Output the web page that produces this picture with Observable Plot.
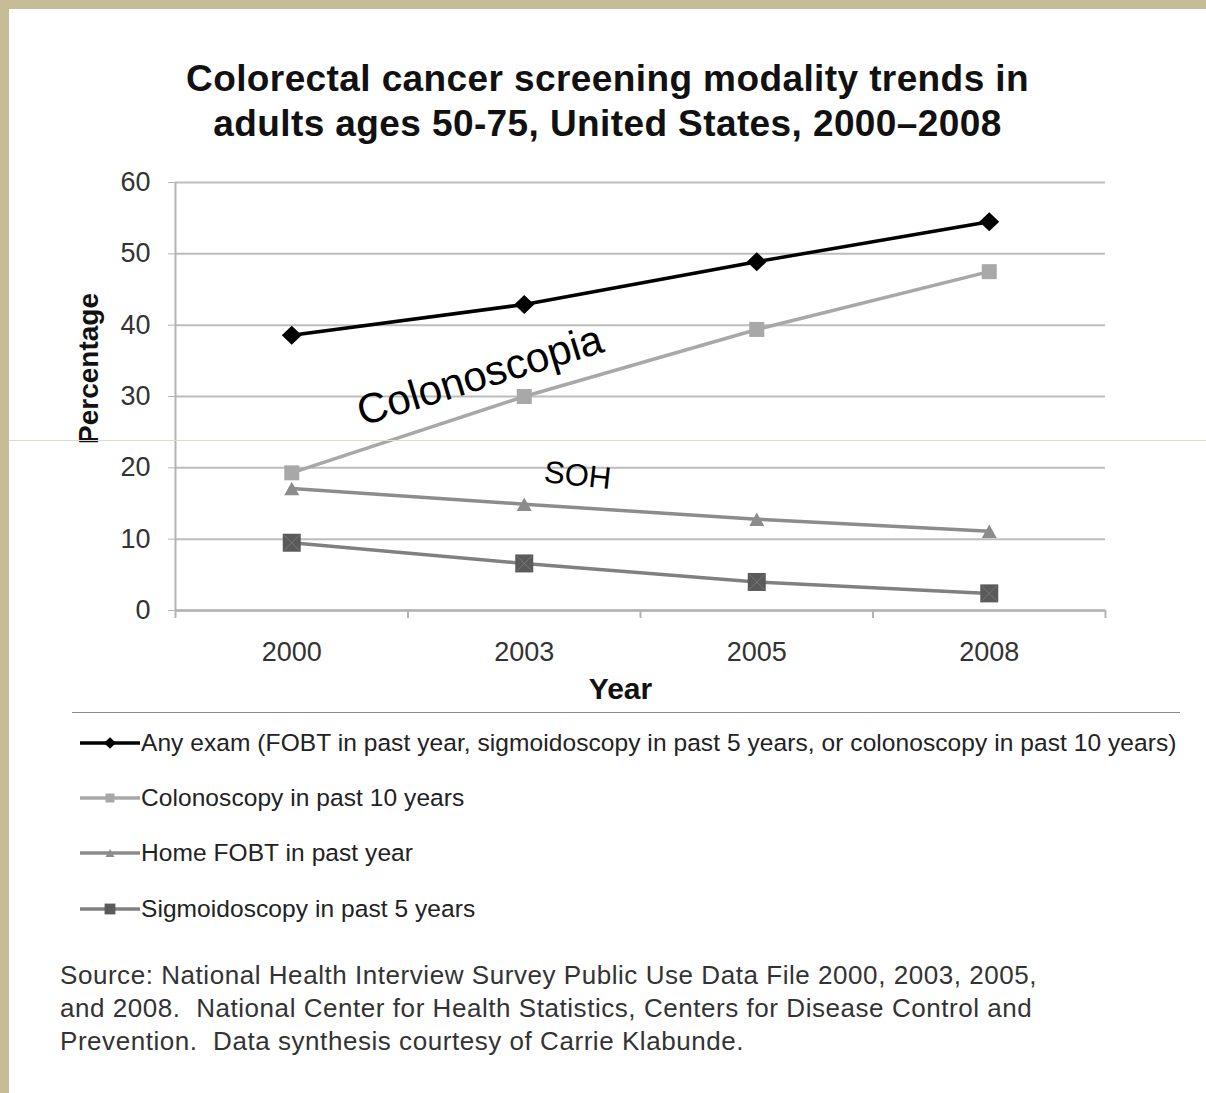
<!DOCTYPE html>
<html>
<head>
<meta charset="utf-8">
<script src="https://cdn.jsdelivr.net/npm/d3@7"></script>
<script src="https://cdn.jsdelivr.net/npm/@observablehq/plot@0.6"></script>
<style>
  body { margin: 0; background: #fff; }
  #page { position: relative; width: 1206px; height: 1093px; background: #c6bd98; overflow: hidden;
          font-family: "Liberation Sans", Arial, sans-serif; }
  #sheet { position: absolute; left: 9px; top: 9px; right: 0; bottom: 0; background: #fff; }
  #seam { position: absolute; left: 9px; right: 0; top: 440px; height: 1px; background: #dddbcc; }
  #title { position: absolute; left: 9px; right: 0; top: 56px; text-align: center; font-weight: bold;
           font-size: 37px; letter-spacing: 0.4px; line-height: 45px; color: #111; }
  #chart { position: absolute; left: 0; top: 150px; }
  #legend { position: absolute; left: 72px; top: 712px; width: 1108px; height: 220px; border-top: 1.5px solid #8a8a8a; }
  .row { position: absolute; left: 8px; height: 30px; display: flex; align-items: center;
         font-size: 24.5px; letter-spacing: 0.07px; color: #222; white-space: nowrap; }
  #source { position: absolute; left: 60px; top: 959px; font-size: 26px; letter-spacing: 0.55px; line-height: 33px; color: #333; white-space: pre; }
</style>
</head>
<body>
<div id="page">
  <div id="sheet"></div>
  <div id="title">Colorectal cancer screening modality trends in<br>adults ages 50-75, United States, 2000–2008</div>
  <div id="chart"></div>
  <div id="legend"></div>
  <div id="source"></div>
  <div id="seam"></div>
</div>
<script>
// Survey years (categories along x)
const years = ["2000", "2003", "2005", "2008"];

// Percentage of adults 50-75 screened, by modality
const anyExam       = [38.6, 42.9, 48.9, 54.5];
const colonoscopy   = [19.3, 30.0, 39.4, 47.5];
const homeFobt      = [17.1, 14.9, 12.8, 11.1];
const sigmoidoscopy = [9.5, 6.6, 4.0, 2.4];

const seriesNames = [
  "Any exam (FOBT in past year, sigmoidoscopy in past 5 years, or colonoscopy in past 10 years)",
  "Colonoscopy in past 10 years",
  "Home FOBT in past year",
  "Sigmoidoscopy in past 5 years"
];

// Y axis ticks
const yTicks = [0, 10, 20, 30, 40, 50, 60];

// Hand-written notes placed on the chart
const noteLabels = ["Colonoscopia", "SOH"];
const noteYearPos = [0.81, 1.23];   // position along the year index
const noteValues = [32.9, 18.9];
const noteAngles = [-17, 6];
const noteSizes = [42, 31];

const sourceLines = [
  "Source: National Health Interview Survey Public Use Data File 2000, 2003, 2005,",
  "and 2008.  National Center for Health Statistics, Centers for Disease Control and",
  "Prevention.  Data synthesis courtesy of Carrie Klabunde."
];

// Marker shapes (size = π r², so sqrt(size/π) gives r)
const diamond = { draw(ctx, size) { const h = Math.sqrt(size / Math.PI);
  ctx.moveTo(0, -h); ctx.lineTo(h * 1.05, 0); ctx.lineTo(0, h); ctx.lineTo(-h * 1.05, 0); ctx.closePath(); } };
const square = { draw(ctx, size) { const h = Math.sqrt(size / Math.PI);
  ctx.moveTo(-h, -h); ctx.lineTo(h, -h); ctx.lineTo(h, h); ctx.lineTo(-h, h); ctx.closePath(); } };
const triangle = { draw(ctx, size) { const h = Math.sqrt(size / Math.PI);
  ctx.moveTo(0, -h * 0.9); ctx.lineTo(h, h * 0.9); ctx.lineTo(-h, h * 0.9); ctx.closePath(); } };

const styles = [
  { values: anyExam,       line: "#000000", fill: "#000000", symbol: diamond,  r: 9.5 },
  { values: colonoscopy,   line: "#a8a8a8", fill: "#a8a8a8", symbol: square,   r: 7.5 },
  { values: homeFobt,      line: "#8c8c8c", fill: "#8c8c8c", symbol: triangle, r: 7.5 },
  { values: sigmoidoscopy, line: "#808080", fill: "#5a5a5a", symbol: square,   r: 9 }
];

const idx = years.map((_, i) => i);
const bounds = d3.range(-0.5, years.length, 1);

const seriesMarks = styles.flatMap((s, k) => {
  const rows = s.values.map((v, i) => ({ i, v }));
  const marks = [
    Plot.line(rows, { x: "i", y: "v", stroke: s.line, strokeWidth: 3.5 }),
    Plot.dot(rows, { x: "i", y: "v", symbol: s.symbol, r: s.r, fill: s.fill, stroke: "none" })
  ];
  if (k === 3) marks.push(Plot.dot(rows, { x: "i", y: "v", symbol: "times", r: 7, stroke: "#777", strokeWidth: 1 }));
  return marks;
});

const notes = noteLabels.map((t, k) => ({ t, i: noteYearPos[k], v: noteValues[k], a: noteAngles[k], s: noteSizes[k] }));

const chart = Plot.plot({
  width: 1206,
  height: 560,
  marginLeft: 175,
  marginRight: 101,
  marginTop: 32,
  marginBottom: 100,
  style: { fontFamily: "'Liberation Sans', Arial, sans-serif", background: "transparent" },
  x: { type: "linear", domain: [-0.5, years.length - 0.5], axis: null },
  y: { domain: [0, 60], axis: null },
  marks: [
    Plot.gridY(yTicks, { stroke: "#bdbdbd", strokeOpacity: 1, strokeWidth: 2 }),
    Plot.ruleX([-0.5], { stroke: "#b3b3b3", strokeWidth: 2 }),
    Plot.ruleY([0], { stroke: "#b3b3b3", strokeWidth: 2.5 }),
    Plot.axisY({ ticks: yTicks, tickSize: 7, tickPadding: 18, fontSize: 27, stroke: "#b3b3b3", fill: "#333", label: null }),
    Plot.axisX({ ticks: bounds, tickSize: 8, tickFormat: () => "", stroke: "#b3b3b3", strokeWidth: 2, label: null }),
    Plot.axisX({ ticks: idx, tickSize: 0, tickPadding: 31, tickFormat: i => years[i], fontSize: 27, fill: "#333", label: null }),
    Plot.text(["Year"], { frameAnchor: "bottom", dy: 79, dx: -20, lineAnchor: "middle", fontSize: 30, fontWeight: "bold", fill: "#111" }),
    Plot.text(["Percentage"], { frameAnchor: "left", textAnchor: "middle", rotate: -90, dx: -86, dy: -28, fontSize: 28, fontWeight: "bold", fill: "#111", style: { letterSpacing: "0.8px" } }),
    ...seriesMarks,
    Plot.text(notes, { x: "i", y: "v", text: "t", rotate: "a", fontSize: "s", fill: "#000" })
  ]
});
document.getElementById("chart").append(chart);

// Legend rows: line swatch with the series marker, then the series name
const legend = d3.select("#legend");
const rowCenters = [30, 85, 140, 196];
styles.forEach((s, k) => {
  const row = legend.append("div").attr("class", "row").style("top", (rowCenters[k] - 15) + "px");
  const sw = row.append("svg").attr("width", 61).attr("height", 24);
  sw.append("line").attr("x1", 0).attr("x2", 60).attr("y1", 12).attr("y2", 12)
    .attr("stroke", s.line).attr("stroke-width", 3.5);
  sw.append("path").attr("transform", "translate(30,12)")
    .attr("d", d3.symbol(s.symbol, Math.PI * (s.r * 0.6) ** 2)())
    .attr("fill", s.fill);
  row.append("span").text(seriesNames[k]);
});

const src = d3.select("#source");
sourceLines.forEach(t => src.append("div").text(t));
</script>
</body>
</html>
